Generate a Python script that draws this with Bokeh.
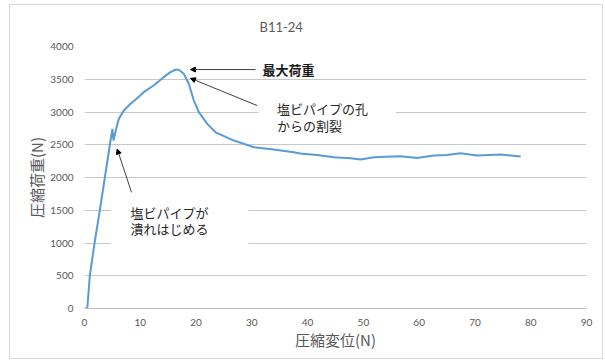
from bokeh.plotting import figure
from bokeh.models import Range1d, FixedTicker, Label, Arrow, NormalHead, BoxAnnotation
from bokeh.embed import file_html
from bokeh.resources import INLINE

# ---- data ----
displacement = [0, 0.5, 0.95, 1.8, 2.75, 3.65, 4.55, 4.8, 5.0, 5.2, 5.6, 6.15, 7.05, 8.25,
                9.45, 10.6, 12.4, 14.2, 15.4, 16.3, 16.9, 17.8, 18.7, 19.6, 20.5, 22.0,
                23.5, 26.8, 30.4, 33.9, 37.5, 38.7, 41.7, 44.7, 47.7, 49.5, 51.9, 54.0,
                56.7, 59.6, 62.6, 65.0, 67.4, 70.4, 72.5, 74.6, 78.2]
load = [0, 0, 500, 1000, 1500, 2000, 2500, 2640, 2743, 2564, 2717, 2895, 3023, 3125,
        3211, 3303, 3405, 3532, 3608, 3645, 3645, 3584, 3431, 3175, 2997, 2819,
        2690, 2564, 2462, 2427, 2385, 2365, 2345, 2309, 2294, 2274, 2309, 2318,
        2324, 2299, 2335, 2345, 2370, 2335, 2345, 2350, 2320]

x_ticks = [0, 10, 20, 30, 40, 50, 60, 70, 80, 90]
y_ticks = [0, 500, 1000, 1500, 2000, 2500, 3000, 3500, 4000]

title_text = "B11-24"
x_label = "圧縮変位(N)"
y_label = "圧縮荷重(N)"
note_max = "最大荷重"
note_split = ["塩ビパイプの孔", "からの割裂"]
note_crush = ["塩ビパイプが", "潰れはじめる"]

GRAY = "#595959"
GRID = "#C8C8C8"
JP = "Noto Sans CJK JP"

p = figure(width=592, height=353, output_backend="svg", toolbar_location=None,
           x_range=Range1d(0, 90), y_range=Range1d(0, 4000),
           min_border_left=74, min_border_right=16, min_border_top=41, min_border_bottom=50)
p.margin = (5, 3, 3, 10)
p.styles = {"outline": "1px solid #D9D9D9"}
p.outline_line_color = None
p.background_fill_color = "white"
p.border_fill_color = "white"

p.title.text = title_text
p.title.align = "left"
p.title.offset = 175
p.title.text_font = "Lato"
p.title.text_font_size = "13px"
p.title.text_font_style = "normal"
p.title.text_color = GRAY
p.title.standoff = 23

p.xgrid.visible = False
p.ygrid.grid_line_color = GRID
p.ygrid.grid_line_width = 1

p.xaxis.ticker = FixedTicker(ticks=x_ticks)
p.yaxis.ticker = FixedTicker(ticks=y_ticks)
for ax in (p.xaxis, p.yaxis):
    ax.major_tick_line_color = None
    ax.minor_tick_line_color = None
    ax.major_label_text_font = "Lato"
    ax.major_label_text_font_size = "10px"
    ax.major_label_text_color = GRAY
    ax.axis_label_text_font = JP
    ax.axis_label_text_font_size = "15px"
    ax.axis_label_text_font_style = "normal"
    ax.axis_label_text_color = GRAY
p.xaxis.axis_line_color = "#BFBFBF"
p.yaxis.axis_line_color = None
p.xaxis.axis_label = x_label
p.yaxis.axis_label = y_label
p.xaxis.major_label_standoff = 4
p.xaxis.axis_label_standoff = 0
p.yaxis.major_label_standoff = 5
p.yaxis.axis_label_standoff = 0

p.line(displacement, load, line_color="#5B9BD5", line_width=2)

# white text boxes that hide gridlines
p.add_layout(BoxAnnotation(left=31.2, right=55.8, top=3250, bottom=2640,
                           fill_color="white", fill_alpha=1, line_color=None))
p.add_layout(BoxAnnotation(left=4.7, right=29.4, top=1800, bottom=960,
                           fill_color="white", fill_alpha=1, line_color=None))

# annotations
p.add_layout(Label(x=31.9, y=3648, text=note_max, text_font=JP, text_font_size="13px",
                   text_font_style="bold", text_color="#1a1a1a",
                   text_baseline="middle", text_align="left"))
p.add_layout(Label(x=34.5, y=3052, text=note_split[0], text_font=JP, text_font_size="13px",
                   text_color="#262626", text_baseline="middle", text_align="left"))
p.add_layout(Label(x=34.5, y=2793, text=note_split[1], text_font=JP, text_font_size="13px",
                   text_color="#262626", text_baseline="middle", text_align="left"))
p.add_layout(Label(x=8.25, y=1467, text=note_crush[0], text_font=JP, text_font_size="13px",
                   text_color="#262626", text_baseline="middle", text_align="left"))
p.add_layout(Label(x=8.25, y=1214, text=note_crush[1], text_font=JP, text_font_size="13px",
                   text_color="#262626", text_baseline="middle", text_align="left"))

def arrow(x0, y0, x1, y1):
    p.add_layout(Arrow(end=NormalHead(size=5, fill_color="black", line_color="black"),
                       x_start=x0, y_start=y0, x_end=x1, y_end=y1,
                       line_color="#404040", line_width=1))

arrow(30.66, 3648, 19.0, 3648)
arrow(30.96, 3098, 19.0, 3515)
arrow(8.43, 1773, 5.86, 2436)

open("out.html", "w").write(file_html(p, INLINE))
